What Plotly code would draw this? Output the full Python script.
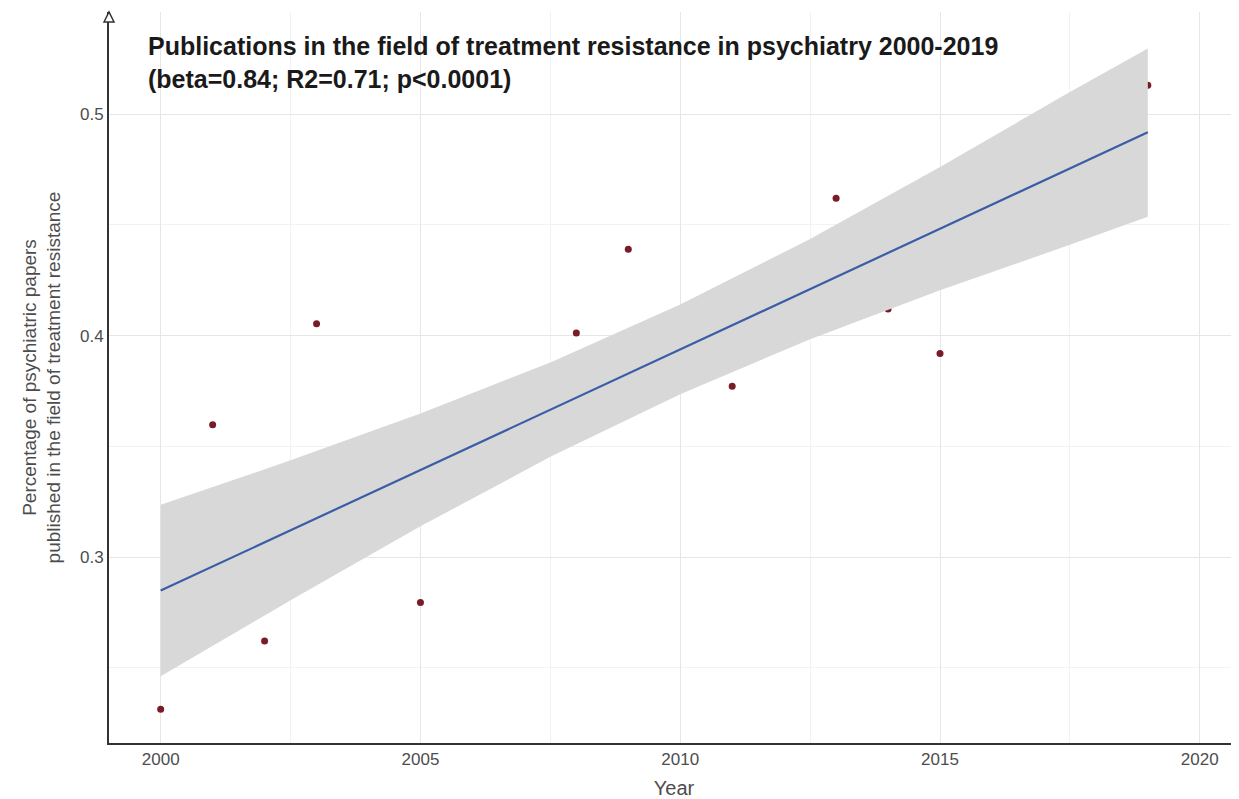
import plotly.graph_objects as go

# Visible data points (share of psychiatric papers on treatment resistance, %)
years = [2000, 2001, 2002, 2003, 2005, 2008, 2009, 2011, 2013, 2014, 2015, 2019]
share = [0.2313, 0.3598, 0.2622, 0.4054, 0.2795, 0.4012, 0.4390, 0.3772, 0.4620, 0.4120, 0.3919, 0.5130]

# Linear trend and its confidence band
fit_years = [2000, 2002.5, 2005, 2007.5, 2010, 2012.5, 2015, 2017.5, 2019]
fit_values = [0.2849, 0.3121, 0.3394, 0.3666, 0.3938, 0.4210, 0.4483, 0.4755, 0.4918]
band_upper = [0.3236, 0.3437, 0.3649, 0.3879, 0.4141, 0.4436, 0.4761, 0.5100, 0.5296]
band_lower = [0.2462, 0.2805, 0.3139, 0.3453, 0.3735, 0.3984, 0.4205, 0.4410, 0.4537]

x_ticks = [2000, 2005, 2010, 2015, 2020]
y_ticks = [0.3, 0.4, 0.5]
y_tick_text = ["0.3", "0.4", "0.5"]

title_line1 = "Publications in the field of treatment resistance in psychiatry 2000-2019"
title_line2 = "(beta=0.84; R2=0.71; p&lt;0.0001)"
x_title = "Year"
y_title = "Percentage of psychiatric papers<br>published in the field of treatment resistance"

FONT = "Liberation Sans, Arial, Helvetica, sans-serif"

fig = go.Figure()

fig.add_trace(go.Scatter(
    x=years, y=share, mode="markers",
    marker=dict(color="#7a1b28", size=7, line=dict(width=0)),
    showlegend=False, hoverinfo="x+y",
))

fig.add_trace(go.Scatter(
    x=fit_years + fit_years[::-1],
    y=band_upper + band_lower[::-1],
    fill="toself", fillcolor="#d8d8d8",
    line=dict(width=0), mode="lines",
    showlegend=False, hoverinfo="skip",
))

fig.add_trace(go.Scatter(
    x=fit_years, y=fit_values, mode="lines",
    line=dict(color="#3a5ea6", width=2.2),
    showlegend=False,
))

# page body has an 8px margin, so the figure is 8px smaller and shifted
fig.update_layout(
    width=1231, height=791,
    margin=dict(l=101, r=0, t=4, b=56),
    plot_bgcolor="white", paper_bgcolor="white",
    font=dict(family=FONT, color="#4d4d4d"),
    xaxis=dict(
        range=[1999.005, 2020.755],
        tickvals=x_ticks,
        ticks="", showgrid=True, gridcolor="#e6e6e6", gridwidth=1,
        minor=dict(dtick=2.5, tick0=2000, showgrid=True, gridcolor="#f2f2f2", gridwidth=1),
        showline=True, linecolor="#333333", linewidth=2,
        zeroline=False,
        tickfont=dict(size=17, color="#4d4d4d", family=FONT),
        title=dict(text=x_title, font=dict(size=20, color="#4d4d4d", family=FONT), standoff=14),
    ),
    yaxis=dict(
        range=[0.2161, 0.5461],
        tickvals=y_ticks, ticktext=y_tick_text,
        ticks="", showgrid=True, gridcolor="#e6e6e6", gridwidth=1,
        minor=dict(dtick=0.05, tick0=0.25, showgrid=True, gridcolor="#f2f2f2", gridwidth=1),
        showline=True, linecolor="#333333", linewidth=2,
        zeroline=False,
        tickfont=dict(size=17, color="#4d4d4d", family=FONT),
        title=dict(text=y_title, font=dict(size=19, color="#4d4d4d", family=FONT), standoff=14),
    ),
    annotations=[dict(
        text="<b>" + title_line1 + "</b><br><b>" + title_line2 + "</b>",
        xref="paper", yref="paper", x=0.0327, y=0.976,
        xanchor="left", yanchor="top", align="left", showarrow=False,
        font=dict(size=25, color="#1a1a1a", family=FONT),
    )],
    shapes=[dict(
        type="path", xref="paper", yref="paper",
        xsizemode="pixel", ysizemode="pixel", xanchor=0, yanchor=1,
        path="M -5,-10 L 0,0 L 5,-10 Z",
        fillcolor="white", line=dict(color="#333333", width=1.5),
        layer="above",
    )],
)

fig.write_html("out.html")
